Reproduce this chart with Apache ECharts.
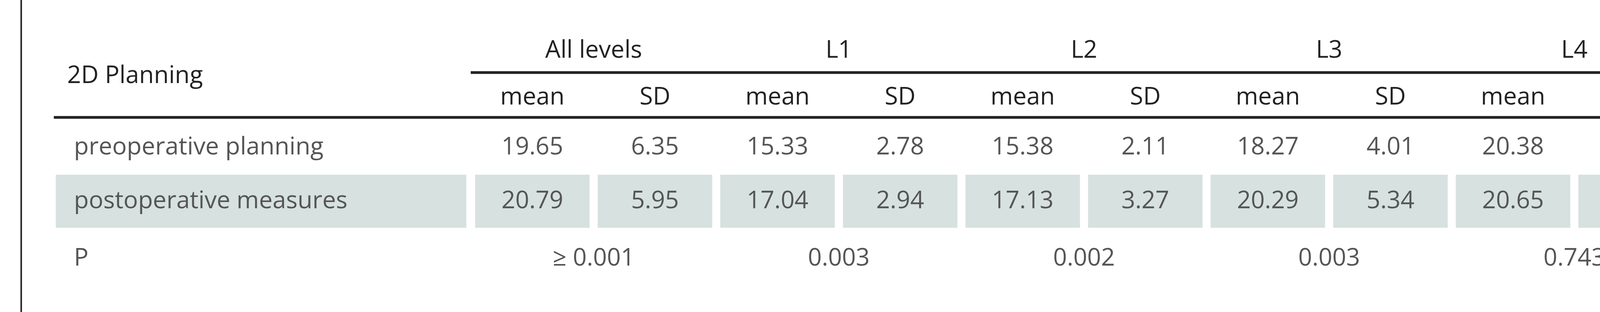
<!DOCTYPE html>
<html><head><meta charset="utf-8">
<script src="https://cdn.jsdelivr.net/npm/echarts@6/dist/echarts.min.js"></script>
<style>html,body{margin:0;padding:0;background:#fff}#c{width:5305px;height:800px}</style>
</head><body><div id="c"></div>
<script>
const title = '2D Planning';
const groups = ['All levels', 'L1', 'L2', 'L3', 'L4', 'L5'];
const subHeaders = ['mean', 'SD'];
const rowLabels = ['preoperative planning', 'postoperative measures', 'P'];
const preop = [19.65, 6.35, 15.33, 2.78, 15.38, 2.11, 18.27, 4.01, 20.38, 4.28, 28.88, 5.61];
const postop = [20.79, 5.95, 17.04, 2.94, 17.13, 3.27, 20.29, 5.34, 20.65, 4.81, 28.85, 3.82];
const pValues = ['≥ 0.001', '0.003', '0.002', '0.003', '0.743', '0.982'];

const FONT = 'Open Sans';
const yGroup = 130, yLine1 = 186, ySub = 250, yLine2 = 301, yPre = 378, yPost = 516, yP = 663;
const chart = echarts.init(document.getElementById('c'), null, {renderer: 'canvas'});
function renderItem(params, api) {
  const c = (x, y) => api.coord([x, y]);
  const ch = [];
  const txt = (x, y, s, align, color, size) => {
    const p = c(x, y);
    ch.push({type: 'text', x: p[0], y: p[1], style: {text: String(s), fill: color, font: size + 'px "' + FONT + '"', textAlign: align, textVerticalAlign: 'middle'}});
  };
  const line = (x1, x2, y) => {
    const a = c(x1, y), b = c(x2, y);
    ch.push({type: 'line', shape: {x1: a[0], y1: a[1], x2: b[0], y2: b[1]}, style: {stroke: '#222', lineWidth: 7}});
  };
  const rect = (x1, x2, y1, y2) => {
    const a = c(x1, y1), b = c(x2, y2);
    ch.push({type: 'rect', shape: {x: a[0], y: a[1], width: b[0] - a[0], height: b[1] - a[1]}, style: {fill: '#d6e1e0'}});
  };
  // shading for postoperative row
  rect(-3.888, -0.539, 448, 584);
  postop.forEach((v, i) => rect(i - 0.467, i + 0.467, 448, 584));
  line(-0.503, 11.494, yLine1);
  line(-3.904, 11.494, yLine2);
  // border
  [[-4.17], [11.77]].forEach(([x]) => {
    const a = c(x, 0), b = c(x, 800);
    ch.push({type: 'line', shape: {x1: a[0], y1: a[1], x2: b[0], y2: b[1]}, style: {stroke: '#222', lineWidth: 4}});
  });
  txt(-3.795, (yGroup + ySub) / 2 + 5, title, 'left', '#222', 62);
  groups.forEach((g, k) => txt(2 * k + 0.5, yGroup, g, 'center', '#222', 62));
  for (let i = 0; i < 12; i++) txt(i, ySub, subHeaders[i % 2], 'center', '#222', 62);
  txt(-3.74, yPre, rowLabels[0], 'left', '#555', 62);
  txt(-3.74, yPost, rowLabels[1], 'left', '#555', 62);
  txt(-3.74, yP, rowLabels[2], 'left', '#555', 62);
  preop.forEach((v, i) => txt(i, yPre, v.toFixed(2), 'center', '#555', 62));
  postop.forEach((v, i) => txt(i, yPost, v.toFixed(2), 'center', '#555', 62));
  pValues.forEach((v, k) => txt(2 * k + 0.5, yP, v, 'center', '#555', 62));
  return {type: 'group', children: ch};
}
chart.setOption({
  animation: false,
  grid: {left: 0, right: 0, top: 0, bottom: 0},
  xAxis: {type: 'value', min: -4.343, max: 12.562, show: false},
  yAxis: {type: 'value', min: 0, max: 800, inverse: true, show: false},
  series: [{type: 'custom', renderItem: renderItem, data: [[0, 0]], clip: false}]
});
</script></body></html>
